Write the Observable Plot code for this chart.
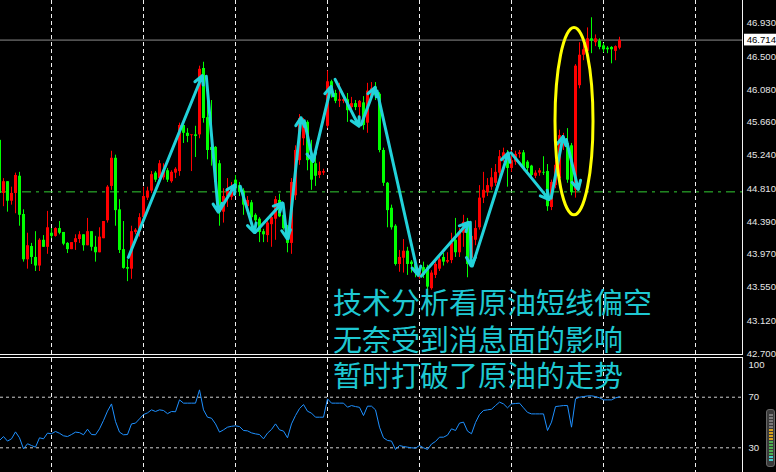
<!DOCTYPE html>
<html><head><meta charset="utf-8">
<script src="https://cdn.jsdelivr.net/npm/d3@7"></script>
<script src="https://cdn.jsdelivr.net/npm/@observablehq/plot@0.6"></script>
<style>
html,body{margin:0;padding:0;background:#000;}
#wrap{position:relative;width:776px;height:472px;background:#000;overflow:hidden;}
#main{position:absolute;left:0;top:0;}
#rsi{position:absolute;left:0;top:358px;}
.sep{position:absolute;left:0;width:743px;height:1px;background:#f4f4f4;}
#note{position:absolute;left:333px;top:283px;font-family:"Noto Sans CJK SC","Noto Sans CJK TC",sans-serif;font-size:29px;line-height:36.5px;color:#1ec8d2;white-space:nowrap;}
#gauge{position:absolute;left:766px;top:409px;width:9px;height:58px;background:#3a3a3a;border:1px solid #666;border-radius:3px;box-sizing:border-box;}
#gauge .bars{position:absolute;left:2px;top:4px;width:4px;height:48px;background:linear-gradient(to bottom,#7a7a7a 0 32%,#d6a21c 32% 55%,#4caf50 55% 88%,#44cccc 88% 100%);}
#gauge .mask{position:absolute;left:2px;top:4px;width:4px;height:48px;background:repeating-linear-gradient(to bottom,rgba(0,0,0,0) 0 2px,#3a3a3a 2px 3px);}
svg{overflow:visible}
</style>
</head><body>
<div id="wrap">
  <div id="main"></div>
  <div class="sep" style="top:354px"></div>
  <div class="sep" style="top:357px"></div>
  <div id="rsi"></div>
  <div id="gauge"><div class="bars"></div><div class="mask"></div></div>
  <div id="note"><div>技术分析看原油短线偏空</div><div>无奈受到消息面的影响</div><div>暂时打破了原油的走势</div></div>
</div>
<script>
// ---- data (bar index starts at firstBar) ----
const firstBar = -1;
const opens = [
45.43,44.75,44.90,44.65,44.75,44.97,44.48,43.90,44.07,43.93,
43.82,44.15,44.06,44.24,44.20,44.30,44.25,44.11,44.03,44.12,
44.16,44.22,44.08,44.26,44.06,43.99,44.17,44.40,44.84,45.20,
44.54,44.03,43.80,43.78,44.25,44.25,44.44,44.69,44.78,45.01,
44.94,44.95,45.04,44.90,45.01,45.03,45.62,45.52,45.49,45.50,
45.50,46.35,45.72,45.34,45.34,45.13,44.51,44.71,44.70,44.92,
44.85,44.78,44.58,44.63,44.47,44.42,44.26,44.21,44.35,44.42,
44.66,44.47,44.31,44.11,44.72,45.17,45.45,45.66,45.21,45.13,
44.98,45.01,45.61,46.18,46.03,45.93,45.93,45.95,45.85,45.90,
45.85,45.91,45.65,45.98,46.11,46.02,45.30,44.88,44.56,44.33,
43.84,43.92,44.01,43.87,43.84,43.67,43.80,43.80,43.53,43.70,
43.78,43.93,43.87,43.89,44.15,43.99,44.24,44.38,43.92,44.15,
44.31,44.69,44.76,44.83,44.88,45.01,45.20,45.26,45.07,45.15,
45.25,45.27,45.15,45.10,44.97,45.01,45.02,45.03,44.57,44.85,
44.94,45.40,45.39,45.36,44.79,46.13,46.52,46.57,46.73,46.68,
46.70,46.64,46.61,46.62,46.57,46.61];
const highs = [
45.45,44.94,44.90,44.83,45.01,45.02,44.54,44.24,44.11,44.26,
44.17,44.21,44.52,44.30,44.31,44.39,44.25,44.12,44.12,44.22,
44.26,44.22,44.43,44.26,44.20,44.31,44.39,44.85,45.29,45.24,
44.67,44.39,43.90,44.33,44.30,44.49,44.83,44.83,45.03,45.03,
45.17,45.13,45.07,45.04,45.08,45.65,45.62,45.58,45.50,45.61,
46.38,46.43,46.07,45.94,45.35,45.17,44.81,44.94,44.89,44.98,
44.89,44.81,44.71,44.66,44.49,44.44,44.29,44.39,44.48,44.71,
44.74,44.49,44.34,44.94,45.36,45.76,45.71,45.68,45.43,45.24,
45.15,45.06,46.32,46.20,46.07,46.16,45.98,46.03,45.98,45.94,
45.94,45.99,46.16,46.17,46.17,46.04,45.33,44.89,44.60,44.35,
44.02,44.16,44.06,43.89,43.87,43.82,43.87,43.83,43.76,43.87,
43.94,43.98,43.99,44.24,44.43,44.30,44.47,44.43,44.25,44.40,
44.85,45.02,44.94,45.07,45.12,45.30,45.33,45.30,45.30,45.29,
45.30,45.30,45.17,45.11,45.04,45.07,45.22,45.12,44.92,45.17,
45.56,45.52,45.58,45.39,46.40,46.68,46.73,46.87,47.00,46.78,
46.73,46.67,46.63,46.63,46.64,46.75];
const lows = [
44.72,44.58,44.51,44.60,44.49,44.33,43.87,43.78,43.84,43.75,
43.75,44.06,43.97,44.17,44.19,44.22,44.08,43.98,44.03,44.02,
44.11,44.01,44.08,44.01,43.87,43.99,44.17,44.37,44.79,44.33,
43.98,43.78,43.62,43.65,44.22,44.19,44.43,44.66,44.75,44.89,
44.90,44.92,44.89,44.88,44.94,44.97,45.39,45.40,45.03,45.21,
45.45,45.65,45.18,45.10,44.86,44.33,44.37,44.57,44.66,44.76,
44.71,44.47,44.51,44.40,44.35,44.12,44.12,44.12,44.06,44.15,
44.44,44.28,43.99,43.97,44.66,45.11,45.36,45.04,44.79,44.84,
44.94,44.98,45.58,45.97,45.90,45.85,45.90,45.66,45.81,45.81,
45.59,45.56,45.52,45.94,45.94,45.27,44.84,44.31,44.28,43.82,
43.74,43.73,43.70,43.73,43.67,43.65,43.66,43.52,43.51,43.66,
43.75,43.82,43.85,43.85,43.93,43.93,44.06,43.67,43.87,44.08,
44.28,44.62,44.71,44.79,44.84,44.95,45.15,44.83,45.02,45.11,
45.20,45.04,45.03,44.94,44.94,44.97,44.98,44.52,44.53,44.81,
44.89,45.30,44.88,44.72,44.69,46.09,46.45,46.54,46.54,46.63,
46.59,46.55,46.54,46.41,46.45,46.59];
const closes = [
44.75,44.90,44.65,44.75,44.98,44.47,43.90,44.08,43.93,43.82,
44.15,44.06,44.31,44.20,44.30,44.24,44.10,44.03,44.12,44.17,
44.22,44.08,44.26,44.06,43.99,44.19,44.39,44.83,45.20,44.53,
44.02,43.79,43.78,44.26,44.28,44.44,44.71,44.78,44.99,44.92,
45.13,45.04,44.92,45.02,45.06,45.62,45.52,45.48,45.50,45.48,
46.34,45.71,45.30,45.30,44.89,44.51,44.71,44.81,44.83,44.81,
44.76,44.60,44.66,44.44,44.40,44.25,44.22,44.37,44.44,44.67,
44.45,44.30,44.11,44.89,45.30,45.71,45.66,45.17,44.92,44.97,
45.03,45.03,46.18,46.03,45.93,45.95,45.95,45.81,45.90,45.85,
45.93,45.62,46.06,46.09,46.00,45.30,44.88,44.53,44.31,43.84,
43.93,44.01,43.84,43.84,43.73,43.79,43.70,43.55,43.73,43.84,
43.90,43.87,43.89,44.11,43.99,44.24,44.38,43.84,44.20,44.30,
44.69,44.79,44.85,44.95,45.02,45.22,45.27,45.07,45.17,45.25,
45.27,45.07,45.07,44.98,45.01,45.04,45.01,44.58,44.89,45.11,
45.49,45.47,44.92,44.76,46.38,46.52,46.59,46.73,46.70,46.73,
46.62,46.59,46.59,46.59,46.63,46.71];
const rsiValues = [
35.8,38.9,35.3,37.1,42.6,37.9,29.2,33.2,31.8,30.5,
37.9,37.1,41.6,41.1,42.9,41.5,39.5,38.9,40.5,42.4,
42.0,40.3,44.7,40.5,40.3,45.0,51.6,59.0,64.7,50.8,
42.4,40.3,40.5,48.9,49.5,52.9,56.3,57.6,60.0,58.7,
60.0,59.5,57.0,58.7,58.5,67.9,65.3,65.3,65.3,65.3,
75.8,60.0,54.2,53.4,48.9,42.4,44.2,46.3,47.0,47.4,
46.8,43.7,43.4,41.8,41.0,40.5,37.1,41.6,44.5,48.9,
44.2,43.2,37.9,48.9,55.5,61.0,64.2,58.9,57.4,54.2,
54.2,54.2,68.7,65.3,65.3,65.3,65.3,62.1,63.4,62.6,
62.0,55.5,62.9,62.9,60.0,46.3,37.9,35.8,35.3,28.7,
31.8,31.0,30.5,30.0,29.7,31.8,30.0,28.7,33.0,35.0,
38.4,38.4,40.0,45.0,43.7,49.5,50.3,43.2,41.1,50.0,
56.3,59.5,60.0,60.5,63.4,66.1,64.7,61.6,64.7,65.0,
65.3,61.6,58.0,56.8,56.8,56.8,56.8,43.7,50.3,62.6,
63.0,63.4,63.4,46.3,68.7,70.0,70.5,71.0,71.1,70.5,
69.5,67.9,67.9,67.9,69.5,70.3];
const priceTicks = [46.93,46.5,46.08,45.66,45.24,44.81,44.39,43.97,43.55,43.12,42.7];
const rsiLevels = [70,30];
const rsiTop = [100];
const gridBars = [12,35,58,81,104,127,150,173];
const lastPrice = 46.714;
const supportLevel = 44.77;
const arrowFromBar   = [31.2,50.7,53.9,59.2,62.9,69.9,71.2,75.2,77.4,82.9,89.4,93.4,104.4,116.7,117.2,126.9,136.9,140.7];
const arrowFromPrice = [43.93,46.25,44.52,44.84,44.25,44.62,44.17,45.68,45.16,46.21,45.63,46.06,43.69,44.38,43.82,45.27,44.69,45.44];
const arrowToBar     = [49.7,53.7,57.9,62.7,69.7,70.9,74.4,77.4,81.9,88.9,92.9,103.7,116.2,116.9,126.2,136.4,139.9,143.7];
const arrowToPrice   = [46.26,44.51,44.86,44.25,44.63,44.17,45.72,45.16,46.12,45.61,46.11,43.70,44.38,43.82,45.27,44.67,45.48,44.80];
const highlight = {bar: 142.75, price: 45.67, barRadius: 4.75, priceRadius: 1.2};

// ---- derived tables ----
const UP = "#ff0000", DOWN = "#00ff00";
const candles = opens.map((o, k) => ({bar: firstBar + k, open: o, high: highs[k], low: lows[k], close: closes[k], color: closes[k] >= o ? UP : DOWN}));
const rsiPoints = rsiValues.map((v, k) => ({bar: firstBar + k, value: v}));
const arrows = arrowFromBar.map((b, k) => ({x1: b, y1: arrowFromPrice[k], x2: arrowToBar[k], y2: arrowToPrice[k]}));

const xDomain = [-0.75, 184.75];
const axisStyle = {background: "#000", color: "#e6e6e6", fontFamily: "'Liberation Sans', Arial, sans-serif", fontSize: "9.6px", overflow: "visible"};

const main = Plot.plot({
  width: 776, height: 354,
  marginLeft: 0, marginRight: 34, marginTop: 0, marginBottom: 0,
  style: axisStyle,
  x: {domain: xDomain, axis: null},
  y: {domain: [42.687, 47.221], axis: null},
  marks: [
    Plot.ruleX(gridBars, {x: d => d, stroke: "#f0f0f0", strokeDasharray: "4,3"}),
    Plot.ruleY([lastPrice], {y: d => d, stroke: "#8c8c8c"}),
    Plot.ruleY([supportLevel], {y: d => d, stroke: "#32cd32", strokeDasharray: "9,5,3,5"}),
    Plot.ruleX(candles, {x: "bar", y1: "low", y2: "high", stroke: "color"}),
    Plot.rect(candles, {x1: d => d.bar - 0.375, x2: d => d.bar + 0.375, y1: "open", y2: "close", fill: "color", dx: 0.5}),
    Plot.arrow(arrows, {x1: "x1", y1: "y1", x2: "x2", y2: "y2", stroke: "#22d2da", strokeWidth: 3, headLength: 4.8, headAngle: 55}),
    Plot.ruleX([xDomain[1]], {x: d => d, stroke: "#f4f4f4"}),
    Plot.text(priceTicks, {x: xDomain[1], y: d => d, text: d => d.toFixed(3), textAnchor: "end", dx: 33.5, fill: "#e6e6e6"}),
    Plot.rect([lastPrice], {x1: xDomain[1] + 0.5, x2: xDomain[1] + 8.5, y1: d => d - 0.075, y2: d => d + 0.075, fill: "#ffffff"}),
    Plot.text([lastPrice], {x: xDomain[1], y: d => d, text: d => d.toFixed(3), textAnchor: "end", dx: 33.5, fill: "#000"})
  ]
});
document.getElementById("main").append(main);

// highlight ellipse drawn through the chart's own scales
{
  const sx = main.scale("x"), sy = main.scale("y");
  const fx = d3.scaleLinear(sx.domain, sx.range);
  const fy = d3.scaleLinear(sy.domain, sy.range);
  d3.select(main).append("ellipse")
    .attr("cx", fx(highlight.bar))
    .attr("cy", fy(highlight.price))
    .attr("rx", fx(highlight.bar + highlight.barRadius) - fx(highlight.bar))
    .attr("ry", fy(highlight.price - highlight.priceRadius) - fy(highlight.price))
    .attr("fill", "none").attr("stroke", "#ffff00").attr("stroke-width", 3);
}

const rsi = Plot.plot({
  width: 776, height: 114,
  marginLeft: 0, marginRight: 34, marginTop: 0, marginBottom: 0,
  style: axisStyle,
  x: {domain: xDomain, axis: null},
  y: {domain: [10.47, 100.6], axis: null},
  marks: [
    Plot.ruleX(gridBars, {x: d => d, stroke: "#f0f0f0", strokeDasharray: "4,3"}),
    Plot.ruleY(rsiLevels, {y: d => d, stroke: "#cfcfcf", strokeDasharray: "3,3"}),
    Plot.line(rsiPoints, {x: "bar", y: "value", stroke: "#1e90ff", strokeWidth: 1}),
    Plot.ruleX([xDomain[1]], {x: d => d, stroke: "#f4f4f4"}),
    Plot.text(rsiLevels, {x: xDomain[1], y: d => d, text: d => String(d), textAnchor: "start", dx: 6, fill: "#e6e6e6"}),
    Plot.text(rsiTop, {x: xDomain[1], y: d => d, text: d => String(d), textAnchor: "start", dx: 6, dy: 6, fill: "#e6e6e6"})
  ]
});
document.getElementById("rsi").append(rsi);
</script>
</body></html>
